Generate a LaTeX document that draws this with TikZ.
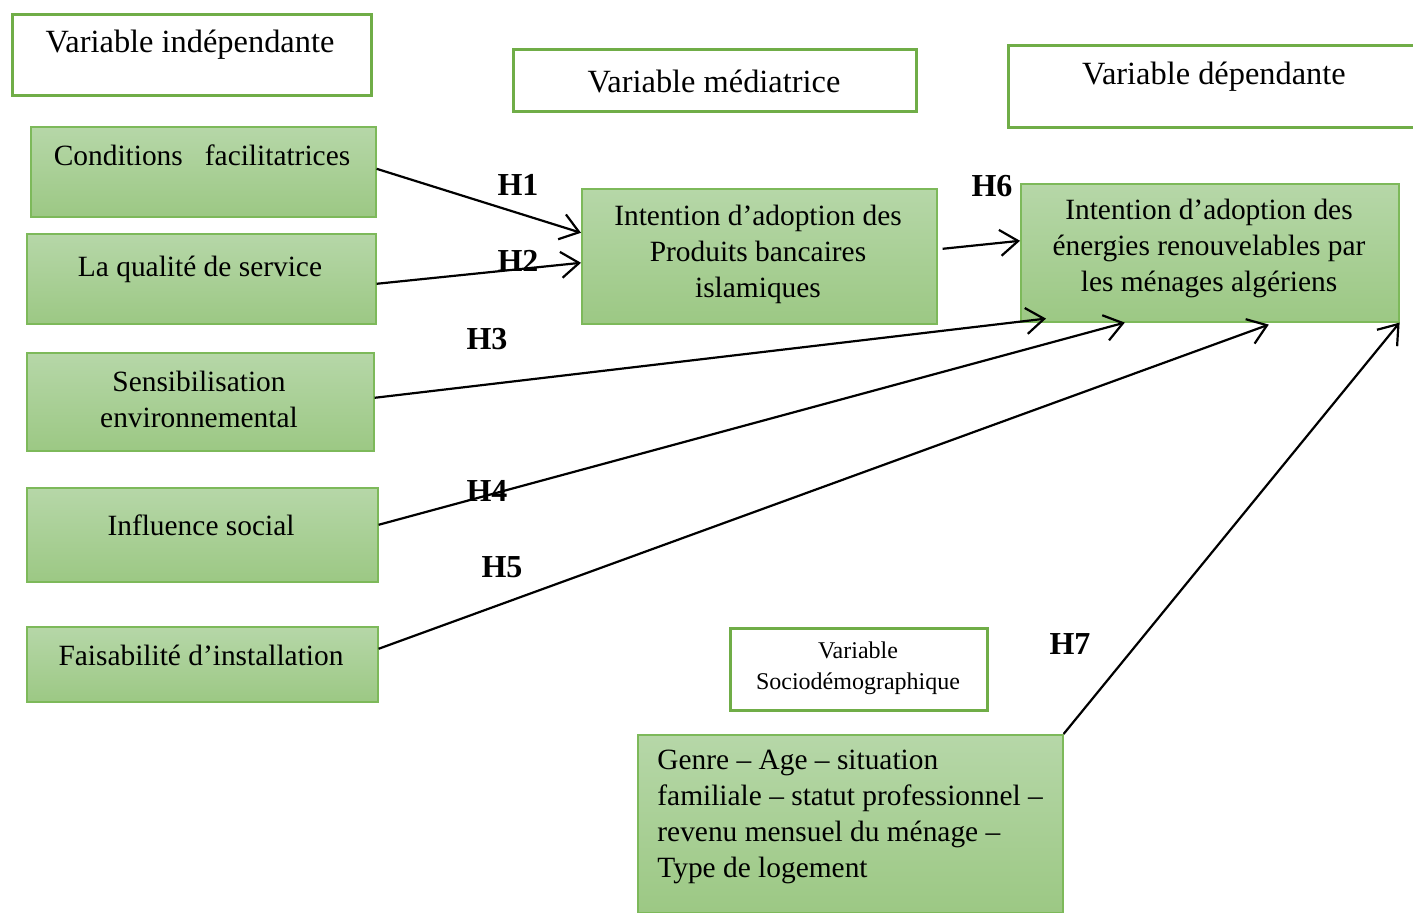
\documentclass[tikz,border=0pt]{standalone}
\usepackage{fontspec}
\setmainfont{Liberation Serif}
\usetikzlibrary{arrows.meta,positioning}
\definecolor{accentgreen}{RGB}{112,173,71}
\definecolor{boxtop}{RGB}{182,215,168}
\definecolor{boxbottom}{RGB}{156,200,132}
\definecolor{boxline}{RGB}{125,185,90}
\tikzset{
    headbox/.style={draw=accentgreen,line width=1.5pt,fill=white,anchor=north west,inner sep=0pt},
    greenbox/.style={draw=boxline,line width=0.8pt,top color=boxtop,bottom color=boxbottom,anchor=north west,inner sep=0pt},
    txt/.style={font=\fontsize{14.7}{18}\selectfont,align=center,inner sep=0pt},
    title txt/.style={font=\fontsize{16.2}{18}\selectfont,align=center,inner sep=0pt},
    small txt/.style={font=\fontsize{12}{15.5}\selectfont,align=center,inner sep=0pt},
    hlabel/.style={font=\fontsize{16}{18}\selectfont\bfseries,inner sep=0pt},
    hyp/.style={-{Straight Barb[length=9pt,width=13pt]},line width=1.1pt}
}

\begin{document}
\begin{tikzpicture}[x=0.5pt,y=-0.5pt]
    \useasboundingbox (0,0) rectangle (1413,913);

    % column titles
    \node[headbox,minimum width=179.5pt,minimum height=40.5pt] (indep) at (11,13)   {};
    \node[headbox,minimum width=201.5pt,minimum height=31pt]   (med)   at (512,48)  {};
    \node[headbox,minimum width=210pt,minimum height=41pt]     (dep)   at (1007,44) {};
    \node[title txt] (indep text) at (190,45)  {Variable indépendante};
    \node[title txt] (med text)   at (714,81)  {Variable médiatrice};
    \node[title txt] (dep text)   at (1214,77) {Variable dépendante};

    % independent variables
    \node[greenbox,minimum width=172.5pt,minimum height=45pt]   (cond) at (30,126) {};
    \node[greenbox,minimum width=174.5pt,minimum height=45pt]   (qual) at (26,233) {};
    \node[greenbox,minimum width=173.5pt,minimum height=49pt]   (sens) at (26,352) {};
    \node[greenbox,minimum width=175.5pt,minimum height=47pt]   (infl) at (26,487) {};
    \node[greenbox,minimum width=175.5pt,minimum height=37.5pt] (fais) at (26,626) {};
    \node[txt] (cond text) at (202,155) {Conditions\ \ \ facilitatrices};
    \node[txt] (qual text) at (200,269) {La qualité de service};
    \node[txt] (sens text) at (199,399) {Sensibilisation\\environnemental};
    \node[txt] (infl text) at (201,525) {Influence social};
    \node[txt] (fais text) at (201,655) {Faisabilité d’installation};

    % mediator and dependent variable
    \node[greenbox,minimum width=177.5pt,minimum height=67.5pt] (pbi)  at (581,188)  {};
    \node[greenbox,minimum width=189pt,minimum height=69pt]     (ener) at (1020,183) {};
    \node[txt] (pbi text)  at (758,254)  {Intention d’adoption des\\Produits bancaires\\islamiques};
    \node[txt] (ener text) at (1209,248) {Intention d’adoption des\\énergies renouvelables par\\les ménages algériens};

    % sociodemographic
    \node[headbox,minimum width=128.5pt,minimum height=41pt] (socio) at (729,627) {};
    \node[small txt] (socio text) at (858,668) {Variable\\Sociodémographique};
    \node[greenbox,minimum width=212.5pt,minimum height=89pt] (genre) at (637,734) {};
    \node[txt,align=left,anchor=west] (genre text) at (657,817)
        {Genre – Age – situation\\familiale – statut professionnel –\\revenu mensuel du ménage –\\Type de logement};

    % hypotheses
    \draw[hyp] ([yshift=1.5pt]cond.east) -- ([yshift=11.75pt]pbi.west);
    \draw[hyp] ([yshift=-2.5pt]qual.east) -- ([yshift=-3.25pt]pbi.west);
    \draw[hyp] ([xshift=2.5pt,yshift=3.75pt]pbi.east) -- ([yshift=6pt]ener.west);
    \draw[hyp] ([yshift=2pt]sens.east) -- ([xshift=13pt,yshift=2pt]ener.south west);
    \draw[hyp] ([yshift=5pt]infl.east) -- ([xshift=-42.5pt]ener.south);
    \draw[hyp] ([yshift=7.75pt]fais.east) -- ([xshift=29.5pt,yshift=-1pt]ener.south);
    \draw[hyp] (genre.north east) -- (ener.south east);

    \node[hlabel] (h1) at (518,185)  {H1};
    \node[hlabel] (h2) at (518,261)  {H2};
    \node[hlabel] (h3) at (487,339)  {H3};
    \node[hlabel] (h4) at (487,491)  {H4};
    \node[hlabel] (h5) at (502,567)  {H5};
    \node[hlabel] (h6) at (992,186)  {H6};
    \node[hlabel] (h7) at (1070,644) {H7};
\end{tikzpicture}
\end{document}
